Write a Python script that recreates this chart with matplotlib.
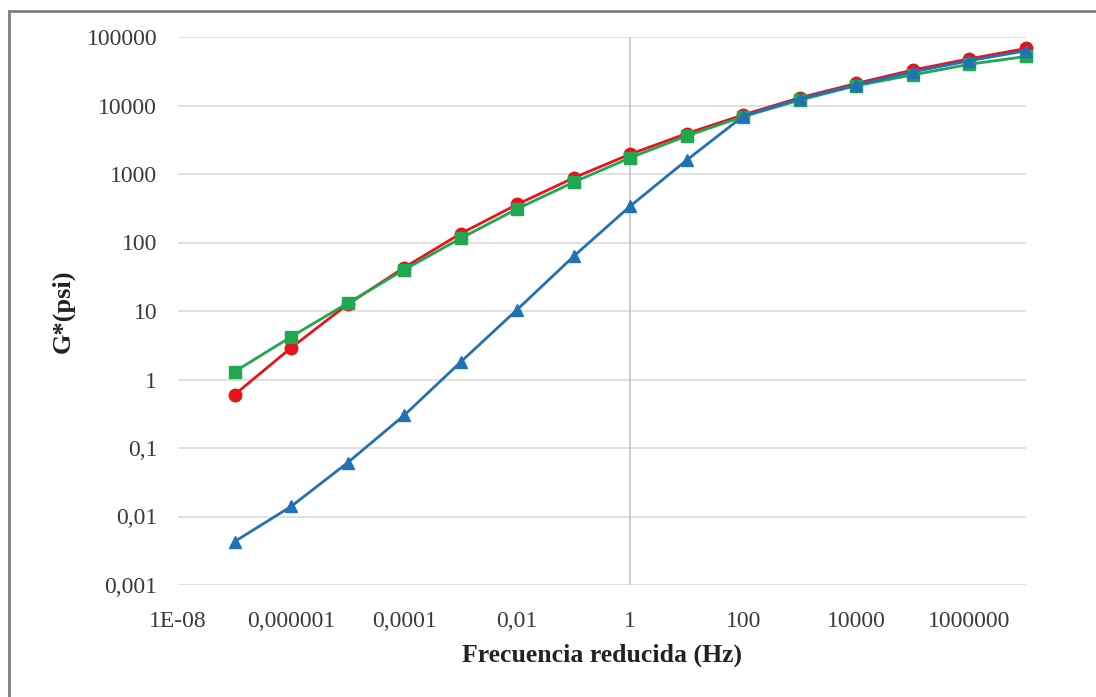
import numpy as np
import matplotlib.pyplot as plt
from matplotlib.lines import Line2D

# data (log-log, G* vs reduced frequency)
freq = [1e-7, 1e-6, 1e-5, 1e-4, 1e-3, 1e-2, 1e-1, 1, 10, 100,
        1e3, 1e4, 1e5, 1e6, 1e7]
g_red = [0.6, 2.9, 12.5, 43, 135, 360, 880, 1950, 3900, 7300,
         13000, 21000, 33000, 48000, 68000]
g_green = [1.3, 4.2, 13, 40, 115, 310, 760, 1730, 3600, 6900,
           12000, 19500, 28000, 40000, 52000]
g_blue = [0.0043, 0.014, 0.061, 0.30, 1.8, 10.5, 63, 340, 1600, 7000,
          12500, 20000, 31000, 45000, 63000]

xticks = [1e-8, 1e-6, 1e-4, 1e-2, 1, 100, 1e4, 1e6]
xticklabels = ['1E-08', '0,000001', '0,0001', '0,01', '1', '100', '10000', '1000000']
yticks = [1e-3, 1e-2, 1e-1, 1, 10, 100, 1e3, 1e4, 1e5]
yticklabels = ['0,001', '0,01', '0,1', '1', '10', '100', '1000', '10000', '100000']

plt.rcParams['font.family'] = ['Liberation Serif', 'DejaVu Serif']

W, H = 1096, 697
fig = plt.figure(figsize=(W / 100, H / 100), dpi=100)
ax = fig.add_axes([178 / W, 1 - 585 / H, (1026 - 178) / W, (585 - 37) / H])

ax.set_xscale('log')
ax.set_yscale('log')
ax.set_xlim(1e-8, 1e7)
ax.set_ylim(1e-3, 1e5)

# gridlines (horizontal only) and the vertical axis crossing at 1
ax.set_yticks(yticks)
ax.set_yticklabels(yticklabels)
ax.set_xticks(xticks)
ax.set_xticklabels(xticklabels)
ax.minorticks_off()
ax.yaxis.grid(True, color='#d9d9d9', linewidth=1.1)
ax.set_axisbelow(True)
ax.axvline(1, color='#bfbfbf', linewidth=1.1, zorder=1)
for s in ax.spines.values():
    s.set_visible(False)
ax.tick_params(length=0, labelsize=17, colors='#3a3a3a')
ax.tick_params(axis='y', pad=15)
ax.tick_params(axis='x', pad=19)

ax.plot(freq, g_red, color='#e8131b', linewidth=2, marker='o', markersize=9,
        zorder=3, clip_on=False)
ax.plot(freq, g_green, color='#1fa84f', linewidth=2, marker='s', markersize=8.5,
        zorder=4, clip_on=False)
ax.plot(freq, g_blue, color='#2271b5', linewidth=2, marker='^', markersize=8.5,
        zorder=5, clip_on=False)

ax.set_xlabel('Frecuencia reducida (Hz)', fontsize=18.5, fontweight='bold',
              color='#222222', labelpad=8)
ax.set_ylabel('G*(psi)', fontsize=19, fontweight='bold', color='#222222')
ax.yaxis.set_label_coords(-(178 - 75) / (1026 - 178), 0.5)

# outer frame of the figure box (left and top edges visible)
fig.add_artist(Line2D([9 / W, 9 / W], [0, 1 - 11 / H], transform=fig.transFigure,
                      color='#7f7f7f', linewidth=2))
fig.add_artist(Line2D([9 / W, 1], [1 - 11 / H, 1 - 11 / H], transform=fig.transFigure,
                      color='#7f7f7f', linewidth=2))

plt.savefig('out.png', dpi=100)
